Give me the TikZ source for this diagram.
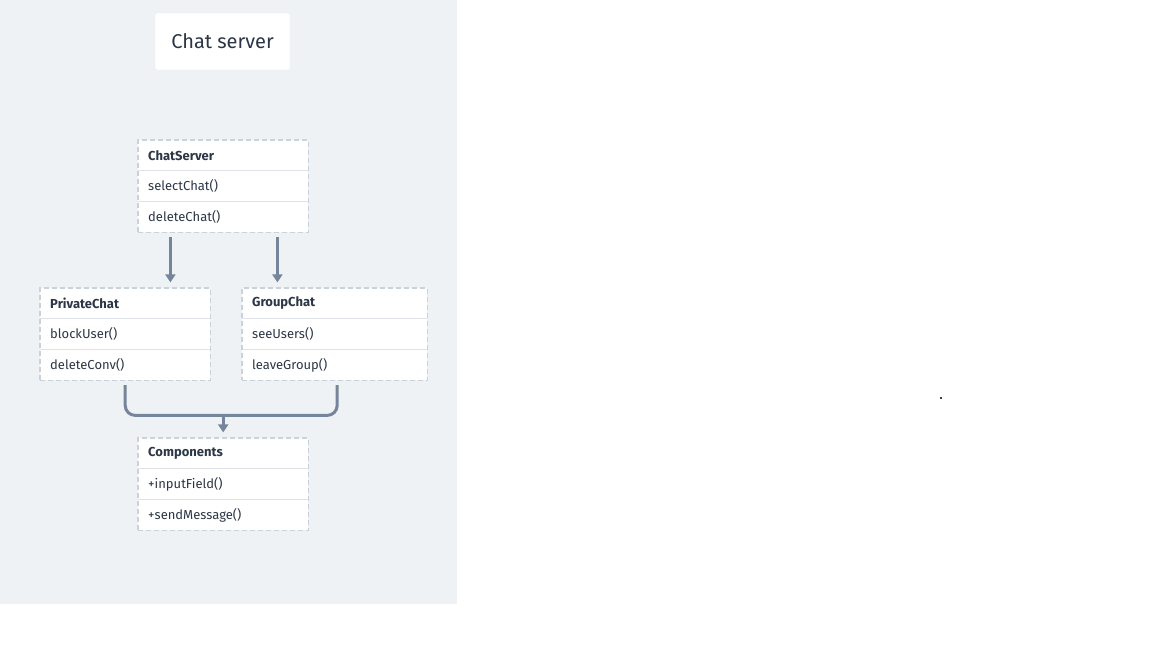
\documentclass[tikz,border=0pt]{standalone}
\usepackage{fontspec}
\setmainfont{Fira Sans}
\usetikzlibrary{positioning,fit,arrows.meta}
\definecolor{panelbg}{HTML}{EFF2F5}
\definecolor{boxline}{HTML}{C9D1DA}
\definecolor{linkgray}{HTML}{76869A}
\definecolor{inktext}{HTML}{2C3646}

\begin{document}
\begin{tikzpicture}[x=1pt,y=-1pt,
  row/.style={fill=white, minimum height=30.4pt, inner ysep=0pt, inner xsep=10pt,
    text width=150pt, align=left, text=inktext, font=\fontsize{13}{15}\selectfont},
  wide/.style={text width=165pt},
  head/.style={row, font=\fontsize{13}{15}\selectfont\bfseries},
  frame/.style={draw=boxline, line width=1.2pt, dash pattern=on 5pt off 3pt, inner sep=0pt},
  divider/.style={draw=boxline!60, line width=0.8pt},
  link/.style={draw=linkgray, line width=3pt},
  tip/.style={-{Triangle[width=10pt,length=8pt]}}]
    % canvas and panel
    \useasboundingbox (0,0) rectangle (1152,648);
    \fill[panelbg] (0,0) rectangle (457,604);
    \fill[black!75] (940.3,397.3) rectangle (941.8,398.8);

    % title
    \node[fill=white, draw=boxline!40, rounded corners=2pt, minimum width=135pt,
      minimum height=57pt, text=inktext, font=\fontsize{20}{23}\selectfont]
      (title) at (222.5,41.5) {Chat server};

    % ChatServer
    \node[head, anchor=north west] (cs1) at (138,140) {ChatServer};
    \node[row, below=0pt of cs1] (cs2) {selectChat()};
    \node[row, below=0pt of cs2] (cs3) {deleteChat()};
    \draw[divider] (cs1.south west) -- (cs1.south east);
    \draw[divider] (cs2.south west) -- (cs2.south east);
    \node[frame, fit=(cs1)(cs3)] (csbox) {};

    % PrivateChat
    \node[head, anchor=north west] (pc1) at (40,288) {PrivateChat};
    \node[row, below=0pt of pc1] (pc2) {blockUser()};
    \node[row, below=0pt of pc2] (pc3) {deleteConv()};
    \draw[divider] (pc1.south west) -- (pc1.south east);
    \draw[divider] (pc2.south west) -- (pc2.south east);
    \node[frame, fit=(pc1)(pc3)] (pcbox) {};

    % GroupChat
    \node[head, wide, anchor=north west] (gc1) at (242,288) {GroupChat};
    \node[row, wide, below=0pt of gc1] (gc2) {seeUsers()};
    \node[row, wide, below=0pt of gc2] (gc3) {leaveGroup()};
    \draw[divider] (gc1.south west) -- (gc1.south east);
    \draw[divider] (gc2.south west) -- (gc2.south east);
    \node[frame, fit=(gc1)(gc3)] (gcbox) {};

    % Components
    \node[head, anchor=north west] (cp1) at (138,438) {Components};
    \node[row, below=0pt of cp1] (cp2) {+inputField()};
    \node[row, below=0pt of cp2] (cp3) {+sendMessage()};
    \draw[divider] (cp1.south west) -- (cp1.south east);
    \draw[divider] (cp2.south west) -- (cp2.south east);
    \node[frame, fit=(cp1)(cp3)] (cpbox) {};

    % links
    \draw[link, tip, shorten <=4pt, shorten >=5pt]
        ([xshift=33pt]csbox.south west) -- ([xshift=33pt]csbox.south west |- pcbox.north);
    \draw[link, tip, shorten <=4pt, shorten >=5pt]
        ([xshift=36pt]gcbox.north west |- csbox.south) -- ([xshift=36pt]gcbox.north west);
    \path (cpbox.north) ++(0,-22) coordinate (join);
    \draw[link, rounded corners=10pt]
        ([yshift=-4pt]pcbox.south) |- (join) -| ([xshift=2.5pt,yshift=-4pt]gcbox.south);
    \draw[link, tip, shorten >=5pt] (join) -- (cpbox.north);
\end{tikzpicture}
\end{document}
